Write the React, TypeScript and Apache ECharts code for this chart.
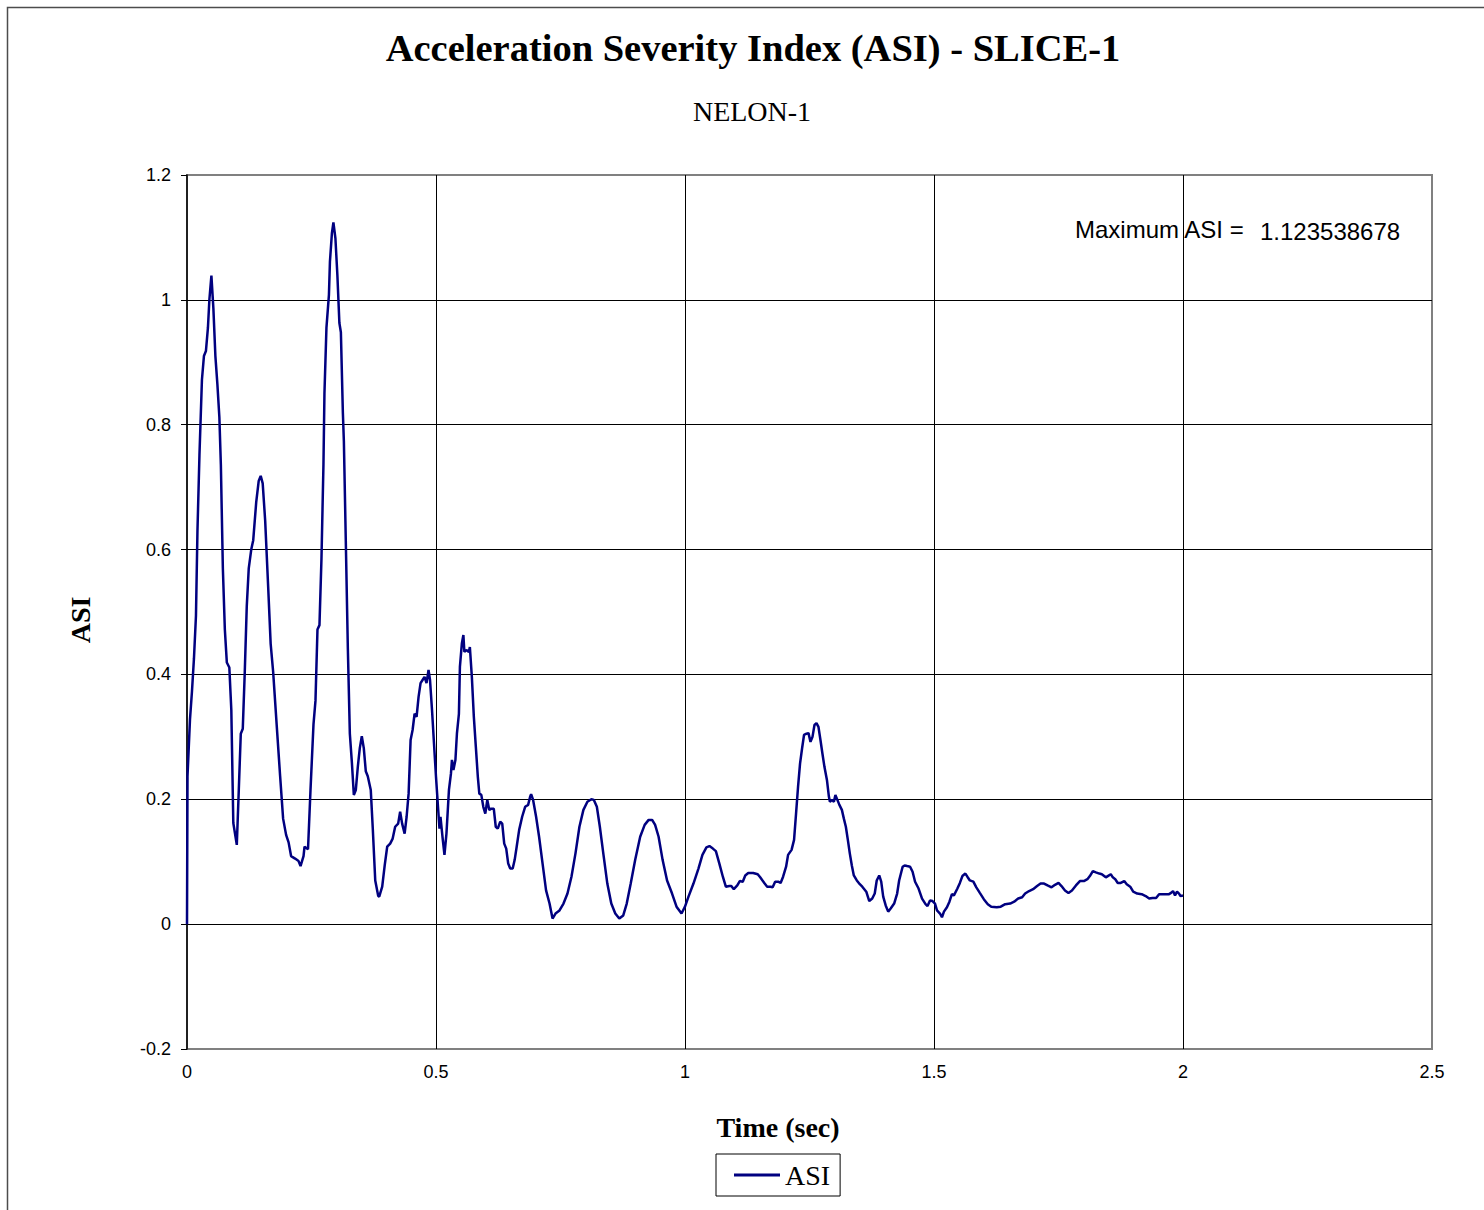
import React, { useEffect, useRef } from "react";
import * as echarts from "echarts";

const TITLE = "Acceleration Severity Index (ASI) - SLICE-1";
const SUBTITLE = "NELON-1";
const X_NAME = "Time (sec)";
const Y_NAME = "ASI";
const SERIES_NAME = "ASI";
const MAX_LABEL = "Maximum ASI =";
const MAX_VALUE = "1.123538678";

const xTicks = [0, 0.5, 1, 1.5, 2, 2.5];
const yTicks = [-0.2, 0, 0.2, 0.4, 0.6, 0.8, 1, 1.2];

const time = [
  0, 0.001, 0.006, 0.01, 0.014, 0.018, 0.021, 0.025, 0.03, 0.034, 0.038, 0.042, 0.045, 0.049, 0.053, 0.057,
  0.061, 0.065, 0.068, 0.072, 0.076, 0.08, 0.085, 0.089, 0.093, 0.1, 0.104, 0.108, 0.112, 0.116, 0.12, 0.124,
  0.129, 0.133, 0.139, 0.144, 0.148, 0.152, 0.157, 0.163, 0.168, 0.173, 0.18, 0.187, 0.193, 0.199, 0.204,
  0.209, 0.217, 0.224, 0.228, 0.234, 0.236, 0.243, 0.248, 0.254, 0.258, 0.262, 0.266, 0.27, 0.274, 0.276,
  0.28, 0.285, 0.287, 0.291, 0.294, 0.298, 0.302, 0.306, 0.309, 0.313, 0.315, 0.319, 0.323, 0.327, 0.331,
  0.335, 0.339, 0.343, 0.347, 0.351, 0.355, 0.359, 0.363, 0.369, 0.373, 0.378, 0.384, 0.386, 0.392, 0.397,
  0.402, 0.408, 0.413, 0.418, 0.424, 0.428, 0.432, 0.437, 0.441, 0.445, 0.449, 0.453, 0.457, 0.461, 0.465,
  0.469, 0.473, 0.477, 0.481, 0.485, 0.488, 0.492, 0.496, 0.5, 0.504, 0.507, 0.509, 0.513, 0.517, 0.521,
  0.526, 0.53, 0.532, 0.535, 0.539, 0.542, 0.546, 0.548, 0.552, 0.555, 0.557, 0.561, 0.566, 0.568, 0.572,
  0.576, 0.58, 0.584, 0.587, 0.591, 0.595, 0.599, 0.603, 0.607, 0.611, 0.616, 0.62, 0.624, 0.629, 0.633,
  0.637, 0.641, 0.645, 0.649, 0.654, 0.658, 0.662, 0.667, 0.673, 0.679, 0.685, 0.689, 0.691, 0.695, 0.701,
  0.707, 0.714, 0.721, 0.728, 0.734, 0.74, 0.748, 0.756, 0.764, 0.772, 0.78, 0.788, 0.796, 0.804, 0.812,
  0.817, 0.823, 0.829, 0.836, 0.844, 0.852, 0.86, 0.868, 0.876, 0.883, 0.891, 0.9, 0.91, 0.919, 0.927,
  0.934, 0.94, 0.947, 0.955, 0.964, 0.974, 0.983, 0.993, 1.0, 1.007, 1.017, 1.027, 1.035, 1.043, 1.049,
  1.056, 1.062, 1.069, 1.076, 1.082, 1.089, 1.093, 1.098, 1.105, 1.11, 1.116, 1.121, 1.127, 1.137, 1.146,
  1.151, 1.16, 1.165, 1.172, 1.176, 1.181, 1.187, 1.192, 1.197, 1.203, 1.207, 1.214, 1.219, 1.223, 1.227,
  1.231, 1.235, 1.239, 1.244, 1.248, 1.252, 1.256, 1.26, 1.264, 1.268, 1.272, 1.276, 1.28, 1.285, 1.289,
  1.291, 1.295, 1.299, 1.302, 1.306, 1.31, 1.315, 1.319, 1.323, 1.327, 1.331, 1.335, 1.339, 1.345, 1.351,
  1.356, 1.364, 1.37, 1.376, 1.381, 1.385, 1.39, 1.394, 1.398, 1.403, 1.408, 1.413, 1.42, 1.426, 1.43,
  1.437, 1.441, 1.446, 1.452, 1.457, 1.462, 1.469, 1.476, 1.483, 1.487, 1.492, 1.497, 1.502, 1.506, 1.512,
  1.516, 1.52, 1.526, 1.531, 1.536, 1.54, 1.547, 1.552, 1.557, 1.563, 1.567, 1.572, 1.579, 1.585, 1.592,
  1.6, 1.608, 1.615, 1.626, 1.634, 1.643, 1.653, 1.661, 1.669, 1.677, 1.683, 1.691, 1.699, 1.707, 1.714,
  1.721, 1.728, 1.736, 1.743, 1.75, 1.756, 1.763, 1.77, 1.777, 1.785, 1.793, 1.801, 1.808, 1.813, 1.819,
  1.825, 1.832, 1.837, 1.845, 1.849, 1.855, 1.859, 1.864, 1.869, 1.875, 1.882, 1.887, 1.894, 1.9, 1.908,
  1.917, 1.925, 1.932, 1.939, 1.946, 1.952, 1.96, 1.967, 1.972, 1.976, 1.98, 1.984, 1.988, 1.992, 1.995, 2.0,
];

const asi = [
  0, 0.237, 0.328, 0.373, 0.426, 0.494, 0.63, 0.751, 0.872, 0.91, 0.918, 0.955, 1.001, 1.039, 0.986, 0.91,
  0.865, 0.812, 0.736, 0.57, 0.472, 0.419, 0.411, 0.343, 0.162, 0.127, 0.215, 0.305, 0.313, 0.404, 0.509, 0.57,
  0.6, 0.615, 0.676, 0.71, 0.718, 0.706, 0.646, 0.54, 0.449, 0.404, 0.32, 0.237, 0.169, 0.143, 0.131,
  0.109, 0.105, 0.101, 0.093, 0.109, 0.124, 0.12, 0.215, 0.32, 0.358, 0.472, 0.479, 0.585, 0.736, 0.85,
  0.955, 1.008, 1.061, 1.107, 1.124, 1.099, 1.039, 0.963, 0.948, 0.819, 0.774, 0.608, 0.441, 0.305, 0.26,
  0.207, 0.215, 0.252, 0.282, 0.301, 0.282, 0.245, 0.237, 0.215, 0.154, 0.07, 0.045, 0.044, 0.06, 0.094,
  0.124, 0.129, 0.137, 0.156, 0.161, 0.18, 0.161, 0.145, 0.172, 0.209, 0.295, 0.311, 0.337, 0.332, 0.364,
  0.386, 0.391, 0.396, 0.386, 0.407, 0.391, 0.343, 0.289, 0.236, 0.188, 0.153, 0.172, 0.14, 0.111, 0.145,
  0.215, 0.241, 0.263, 0.247, 0.263, 0.305, 0.337, 0.412, 0.45, 0.463, 0.436, 0.439, 0.436, 0.444, 0.396,
  0.332, 0.284, 0.236, 0.209, 0.207, 0.188, 0.177, 0.199, 0.183, 0.185, 0.185, 0.156, 0.153, 0.164, 0.161,
  0.129, 0.121, 0.097, 0.089, 0.089, 0.103, 0.124, 0.151, 0.172, 0.188, 0.191, 0.204, 0.208, 0.199, 0.172,
  0.14, 0.097, 0.054, 0.033, 0.009, 0.017, 0.022, 0.033, 0.049, 0.076, 0.113, 0.156, 0.183, 0.196, 0.2,
  0.199, 0.188, 0.156, 0.113, 0.065, 0.033, 0.017, 0.009, 0.014, 0.033, 0.065, 0.103, 0.14, 0.159, 0.167,
  0.167, 0.159, 0.14, 0.103, 0.07, 0.049, 0.028, 0.017, 0.028, 0.044, 0.065, 0.089, 0.111, 0.123, 0.125,
  0.121, 0.117, 0.097, 0.076, 0.06, 0.061, 0.061, 0.056, 0.062, 0.069, 0.068, 0.078, 0.082, 0.082, 0.08,
  0.075, 0.065, 0.06, 0.06, 0.059, 0.068, 0.068, 0.066, 0.076, 0.092, 0.111, 0.119, 0.135, 0.177, 0.22,
  0.257, 0.281, 0.303, 0.305, 0.306, 0.292, 0.3, 0.319, 0.322, 0.316, 0.295, 0.273, 0.252, 0.231, 0.204,
  0.196, 0.199, 0.196, 0.207, 0.199, 0.191, 0.183, 0.169, 0.156, 0.135, 0.113, 0.094, 0.078, 0.07, 0.064,
  0.06, 0.052, 0.037, 0.041, 0.049, 0.07, 0.078, 0.068, 0.044, 0.03, 0.02, 0.025, 0.033, 0.049, 0.07,
  0.092, 0.094, 0.093, 0.092, 0.084, 0.068, 0.057, 0.041, 0.032, 0.029, 0.038, 0.037, 0.033, 0.022, 0.017,
  0.011, 0.02, 0.027, 0.036, 0.048, 0.046, 0.057, 0.066, 0.077, 0.081, 0.076, 0.07, 0.068, 0.059, 0.05,
  0.04, 0.032, 0.028, 0.027, 0.028, 0.032, 0.033, 0.036, 0.041, 0.043, 0.049, 0.053, 0.056, 0.061, 0.065,
  0.065, 0.062, 0.059, 0.063, 0.066, 0.061, 0.054, 0.05, 0.054, 0.062, 0.069, 0.069, 0.072, 0.077, 0.085,
  0.083, 0.081, 0.08, 0.075, 0.077, 0.08, 0.075, 0.072, 0.066, 0.066, 0.069, 0.064, 0.06, 0.052, 0.049,
  0.048, 0.045, 0.041, 0.042, 0.042, 0.048, 0.048, 0.048, 0.048, 0.05, 0.053, 0.046, 0.052, 0.049, 0.045, 0.046,
];

const SERIF = "'Liberation Serif', 'Times New Roman', serif";
const SANS = "'Liberation Sans', Arial, sans-serif";

export default function App() {
  const ref = useRef<HTMLDivElement>(null);

  useEffect(() => {
    if (!ref.current) return;
    const chart = echarts.init(ref.current, null, { renderer: "svg" });
    const data = time.map((t, i) => [t, asi[i]]);

    chart.setOption({
      animation: false,
      backgroundColor: "#ffffff",
      grid: {
        left: 187,
        top: 175,
        width: 1245,
        height: 874,
        show: true,
        borderColor: "#808080",
        borderWidth: 2,
        backgroundColor: "transparent",
      },
      xAxis: {
        type: "value",
        min: xTicks[0],
        max: xTicks[xTicks.length - 1],
        interval: 0.5,
        axisLine: { show: false, onZero: false },
        axisTick: { show: false },
        axisLabel: { fontFamily: SANS, fontSize: 18, color: "#000", margin: 14 },
        splitLine: { show: true, showMinLine: false, showMaxLine: false, lineStyle: { color: "#000", width: 1 } },
      },
      yAxis: {
        type: "value",
        min: yTicks[0],
        max: yTicks[yTicks.length - 1],
        interval: 0.2,
        axisLine: { show: true, onZero: false, lineStyle: { color: "#000", width: 1.5 } },
        axisTick: { show: true, inside: false, length: 6, lineStyle: { color: "#000", width: 1 } },
        axisLabel: {
          fontFamily: SANS,
          fontSize: 18,
          color: "#000",
          margin: 16,
          formatter: (v: number) => String(Math.round(v * 10) / 10),
        },
        splitLine: { show: true, showMinLine: false, showMaxLine: false, lineStyle: { color: "#000", width: 1 } },
      },
      legend: {
        left: 716,
        top: 1154,
        orient: "horizontal",
        borderColor: "#000",
        borderWidth: 1,
        padding: [7, 10, 7, 18],
        itemWidth: 46,
        itemHeight: 3,
        itemGap: 5,
        textStyle: { fontFamily: SERIF, fontSize: 28, color: "#000", padding: [0, 0, 0, 0] },
        data: [{ name: SERIES_NAME, icon: "rect" }],
      },
      series: [
        {
          name: SERIES_NAME,
          type: "line",
          data,
          showSymbol: false,
          symbol: "none",
          lineStyle: { color: "#000080", width: 2.5 },
          itemStyle: { color: "#000080" },
          z: 5,
        },
      ],
      graphic: [
        {
          type: "rect",
          shape: { x: 7.5, y: 7.5, width: 1500, height: 1500 },
          style: { fill: "none", stroke: "#4d4d4d", lineWidth: 1.5 },
          silent: true,
        },
        {
          type: "text",
          x: 753,
          y: 48,
          style: {
            text: TITLE,
            font: `bold 38.5px ${SERIF}`,
            fill: "#000",
            textAlign: "center",
            textVerticalAlign: "middle",
          },
        },
        {
          type: "text",
          x: 752,
          y: 111,
          style: {
            text: SUBTITLE,
            font: `28px ${SERIF}`,
            fill: "#000",
            textAlign: "center",
            textVerticalAlign: "middle",
          },
        },
        {
          type: "text",
          x: 778,
          y: 1127,
          style: {
            text: X_NAME,
            font: `bold 28px ${SERIF}`,
            fill: "#000",
            textAlign: "center",
            textVerticalAlign: "middle",
          },
        },
        {
          type: "text",
          x: 80,
          y: 620,
          rotation: Math.PI / 2,
          style: {
            text: Y_NAME,
            font: `bold 28px ${SERIF}`,
            fill: "#000",
            textAlign: "center",
            textVerticalAlign: "middle",
          },
        },
        {
          type: "text",
          x: 1075,
          y: 229,
          z: 10,
          style: {
            text: MAX_LABEL,
            font: `24px ${SANS}`,
            fill: "#000",
            textAlign: "left",
            textVerticalAlign: "middle",
          },
        },
        {
          type: "text",
          x: 1260,
          y: 231,
          z: 10,
          style: {
            text: MAX_VALUE,
            font: `24px ${SANS}`,
            fill: "#000",
            textAlign: "left",
            textVerticalAlign: "middle",
          },
        },
      ],
    });

    return () => chart.dispose();
  }, []);

  return (
    <div
      ref={ref}
      style={{ position: "absolute", left: 0, top: 0, width: 1484, height: 1210, background: "#fff" }}
    />
  );
}
